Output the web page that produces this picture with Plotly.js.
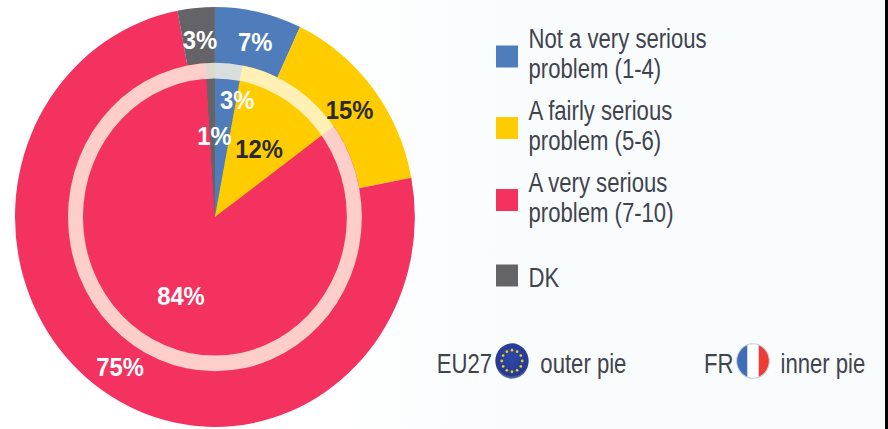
<!DOCTYPE html>
<html><head><meta charset="utf-8">
<script src="https://cdn.plot.ly/plotly-3.0.1.min.js"></script>
<style>
html,body{margin:0;padding:0;width:888px;height:429px;overflow:hidden;background:linear-gradient(90deg,#ffffff 0,#ffffff 330px,#f8fcfd 520px,#f8fcfd 885px,#000000 885px,#000000 100%)}
.g{position:absolute;left:0;top:0;transform-origin:0 0}
</style></head><body><div id="pies" class="g"></div><div id="legend" class="g"></div>
<script>
const categories=['Not a very serious<br>problem (1-4)','A fairly serious<br>problem (5-6)','A very serious<br>problem (7-10)','DK'];
const eu27=[7,15,75,3];
const fr=[3,12,84,1];
const colors=['#4f7dbc','#ffcc00','#f3325f','#636368'];
const legendFirstLineY=[38.5,110.5,182.5,277];
const legendSwatchY=[56.5,128,200,275.5];
const euLabelPos=[[255,42],[350,110],[120,367],[200,40]];
const frLabelPos=[[237,100],[259,149],[181,296],[214,136]];
const labelInk=['#ffffff','#2a2a2a','#ffffff','#ffffff'];

const W=888,H=429;
const px=x=>x/W, py=y=>1-y/H;
const CX=215,CY=217,ELL=1.05;
const dom=r=>({x:[px(CX-r),px(CX+r)],y:[py(CY+r*ELL),py(CY-r*ELL)]});
const pie=(name,vals,r)=>({type:'pie',name:name,values:vals,labels:categories,sort:false,direction:'clockwise',rotation:0,
  marker:{colors:colors,line:{width:0}},textinfo:'none',hoverinfo:'label+percent',domain:dom(r),showlegend:false});
const traces=[pie('EU27',eu27,200),pie('FR',fr,147),
 {type:'pie',values:[1],labels:['ring'],hole:132/147,sort:false,marker:{colors:['rgba(255,250,232,0.78)'],line:{width:0}},textinfo:'none',hoverinfo:'skip',domain:dom(147),showlegend:false}];

const ann=[];
const addVal=(v,p,i)=>ann.push({x:px(p[0]),y:py(p[1]),xref:'paper',yref:'paper',xanchor:'center',yanchor:'middle',showarrow:false,
  text:'<b>'+v+'%</b>',font:{family:'Liberation Sans, Arial, sans-serif',size:25,color:labelInk[i]}});
eu27.forEach((v,i)=>addVal(v,euLabelPos[i],i));
fr.forEach((v,i)=>addVal(v,frLabelPos[i],i));

function mount(id,sx,sy,layout,data){
  const el=document.getElementById(id);
  el.style.width=(W/sx)+'px';el.style.height=(H/sy)+'px';el.style.transform='scale('+sx+','+sy+')';
  return Plotly.newPlot(el,data,Object.assign({width:W/sx,height:H/sy,margin:{l:0,r:0,t:0,b:0,pad:0},paper_bgcolor:'rgba(0,0,0,0)',plot_bgcolor:'rgba(0,0,0,0)',showlegend:false,xaxis:{visible:false},yaxis:{visible:false}},layout),{displayModeBar:false,staticPlot:true});
}
const pieS=1.05;
// pies: stretched vertically; paper coordinates stay the same under the CSS scale
mount('pies',1/pieS,1,{annotations:ann},traces);

const txtFont={family:'Liberation Sans, sans-serif',size:28,color:'#41434f'};
const lgAnn=[];
const addTxt=(t,x,y)=>lgAnn.push({x:px(x),y:py(y),xref:'paper',yref:'paper',xanchor:'left',yanchor:'middle',align:'left',showarrow:false,text:t,font:txtFont});
categories.forEach((c,i)=>c.split('<br>').forEach((line,j)=>addTxt(line,527,legendFirstLineY[i]+j*30)));
addTxt('EU27',435,363);addTxt('outer pie',539,363);addTxt('FR',702,363);addTxt('inner pie',779,363);
const shapes=colors.map((c,i)=>({type:'rect',xref:'paper',yref:'paper',x0:px(496),x1:px(518),y0:py(legendSwatchY[i]-11),y1:py(legendSwatchY[i]+11),fillcolor:c,line:{width:0}}));

const stars=[...Array(12).keys()].map(k=>{const a=k*Math.PI/6;return '<circle cx="'+(50+30*Math.sin(a)).toFixed(1)+'" cy="'+(50+30*Math.cos(a)).toFixed(1)+'" r="4" fill="#e8c92e"/>';}).join('');
const euSvg='<svg xmlns="http://www.w3.org/2000/svg" width="100" height="100"><defs><radialGradient id="a" cx=".5" cy=".4" r=".6"><stop offset="0" stop-color="#2f48a8"/><stop offset=".85" stop-color="#26398f"/><stop offset="1" stop-color="#6c78a8"/></radialGradient></defs><circle cx="50" cy="50" r="49" fill="url(#a)"/>'+stars+'</svg>';
const frSvg='<svg xmlns="http://www.w3.org/2000/svg" width="100" height="100"><defs><clipPath id="c"><circle cx="50" cy="50" r="48"/></clipPath></defs><g clip-path="url(#c)"><rect width="34" height="100" fill="#3f6db5"/><rect x="34" width="33" height="100" fill="#ffffff"/><rect x="67" width="33" height="100" fill="#ee3b35"/></g><circle cx="50" cy="50" r="48" fill="none" stroke="#c8ccd0" stroke-width="3"/></svg>';
const img=(svg,cx,cy)=>({source:'data:image/svg+xml;utf8,'+encodeURIComponent(svg),xref:'paper',yref:'paper',x:px(cx-17),y:py(cy-18),sizex:34/W,sizey:36/H,sizing:'stretch',xanchor:'left',yanchor:'top',layer:'above'});
mount('legend',0.79,1,{annotations:lgAnn,shapes:shapes,images:[img(euSvg,512,361),img(frSvg,753,361)]},[]);
</script></body></html>
